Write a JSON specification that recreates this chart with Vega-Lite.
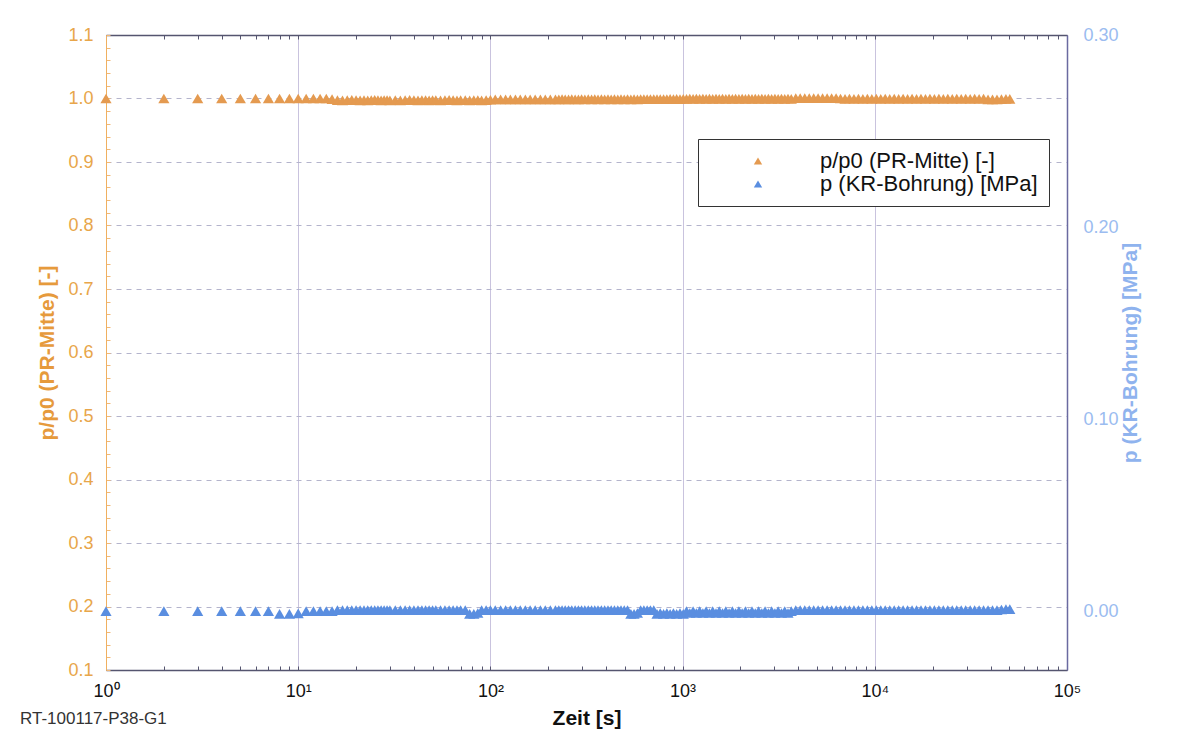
{
  "$schema": "https://vega.github.io/schema/vega-lite/v6.json",
  "width": 961,
  "height": 635,
  "autosize": "none",
  "padding": {"left": 106, "top": 35, "right": 137, "bottom": 73},
  "background": "white",
  "config": {
    "font": "Liberation Sans",
    "view": {"stroke": null},
    "axis": {"labelFont": "Liberation Sans", "titleFont": "Liberation Sans"}
  },
  "title": {
    "text": "RT-100117-P38-G1",
    "orient": "bottom",
    "anchor": "start",
    "frame": "group",
    "dx": -86,
    "offset": -17,
    "fontSize": 17,
    "fontWeight": "normal",
    "color": "#333333",
    "font": "Liberation Sans"
  },
  "data": {
    "values": [
      {"t":1,"a":1.0,"b":0.0},{"t":2,"a":1.0,"b":0.0},{"t":3,"a":1.0,"b":0.0},{"t":4,"a":1.0,"b":0.0},{"t":5,"a":1.0,"b":0.0},
      {"t":6,"a":1.0,"b":0.0},{"t":7,"a":1.0,"b":0.0},{"t":8,"a":1.0,"b":-0.0015},{"t":9,"a":1.0,"b":-0.0015},{"t":10,"a":1.0,"b":-0.0012},
      {"t":11,"a":1.0,"b":0.0},{"t":12,"a":1.0,"b":0.0},{"t":13,"a":1.0,"b":0.0},{"t":14,"a":1.0,"b":0.0},{"t":15,"a":0.999,"b":0.0},
      {"t":16,"a":0.9975,"b":0.0005},{"t":17,"a":0.997,"b":0.0005},{"t":18,"a":0.9975,"b":0.0005},{"t":19,"a":0.998,"b":0.0005},{"t":20,"a":0.9975,"b":0.0005},
      {"t":21,"a":0.997,"b":0.0005},{"t":22,"a":0.9975,"b":0.0005},{"t":23,"a":0.997,"b":0.0005},{"t":24,"a":0.9975,"b":0.0005},{"t":25,"a":0.998,"b":0.0005},
      {"t":26,"a":0.9975,"b":0.0005},{"t":27,"a":0.997,"b":0.0005},{"t":28,"a":0.9975,"b":0.0005},{"t":29,"a":0.9975,"b":0.0005},{"t":30,"a":0.997,"b":0.0005},
      {"t":32,"a":0.9975,"b":0.0005},{"t":34,"a":0.997,"b":0.0005},{"t":36,"a":0.9975,"b":0.0005},{"t":38,"a":0.998,"b":0.0005},{"t":40,"a":0.9975,"b":0.0005},
      {"t":42,"a":0.997,"b":0.0005},{"t":44,"a":0.9975,"b":0.0005},{"t":46,"a":0.9975,"b":0.0005},{"t":48,"a":0.997,"b":0.0005},{"t":50,"a":0.9975,"b":0.0005},
      {"t":52,"a":0.9975,"b":0.0005},{"t":55,"a":0.997,"b":0.0005},{"t":58,"a":0.9975,"b":0.0005},{"t":61,"a":0.998,"b":0.0005},{"t":64,"a":0.9975,"b":0.0005},
      {"t":67,"a":0.997,"b":0.0005},{"t":70,"a":0.9975,"b":0.0005},{"t":74,"a":0.9975,"b":0.0005},{"t":78,"a":0.997,"b":-0.0015},{"t":82,"a":0.9975,"b":-0.0015},
      {"t":86,"a":0.9975,"b":-0.001},{"t":90,"a":0.997,"b":0.0005},{"t":95,"a":0.9975,"b":0.0005},{"t":100,"a":0.998,"b":0.0005},
      {"t":106,"a":0.9985,"b":0.0005},{"t":113,"a":0.9985,"b":0.0005},{"t":120,"a":0.9985,"b":0.0005},{"t":127,"a":0.9985,"b":0.0005},{"t":135,"a":0.9985,"b":0.0005},
      {"t":143,"a":0.9985,"b":0.0005},{"t":152,"a":0.9985,"b":0.0005},{"t":161,"a":0.9985,"b":0.0005},{"t":171,"a":0.9985,"b":0.0005},{"t":182,"a":0.9985,"b":0.0005},
      {"t":193,"a":0.9985,"b":0.0005},{"t":205,"a":0.9985,"b":0.0005},{"t":218,"a":0.9985,"b":0.0005},
      {"t":227,"a":0.9985,"b":0.0005},{"t":236,"a":0.999,"b":0.0005},{"t":245,"a":0.9985,"b":0.0005},{"t":255,"a":0.9985,"b":0.0005},{"t":265,"a":0.999,"b":0.0005},
      {"t":276,"a":0.9985,"b":0.0005},{"t":287,"a":0.9985,"b":0.0005},{"t":298,"a":0.999,"b":0.0005},{"t":310,"a":0.9985,"b":0.0005},{"t":323,"a":0.999,"b":0.0005},
      {"t":336,"a":0.9985,"b":0.0005},{"t":349,"a":0.999,"b":0.0005},{"t":363,"a":0.9985,"b":0.0005},{"t":378,"a":0.999,"b":0.0005},{"t":393,"a":0.9985,"b":0.0005},
      {"t":409,"a":0.999,"b":0.0005},{"t":425,"a":0.9985,"b":0.0005},{"t":442,"a":0.999,"b":0.0005},{"t":460,"a":0.9985,"b":0.0005},{"t":478,"a":0.999,"b":0.0005},
      {"t":497,"a":0.9985,"b":0.0005},{"t":517,"a":0.999,"b":0.0005},{"t":538,"a":0.9985,"b":-0.0015},{"t":559,"a":0.999,"b":-0.0015},{"t":582,"a":0.9985,"b":-0.001},
      {"t":605,"a":0.999,"b":0.0005},{"t":629,"a":0.999,"b":0.0005},{"t":654,"a":0.999,"b":0.0005},{"t":680,"a":0.999,"b":0.0005},{"t":708,"a":0.999,"b":0.0005},
      {"t":736,"a":0.999,"b":-0.0015},{"t":765,"a":0.999,"b":-0.001},{"t":796,"a":0.999,"b":-0.0015},{"t":828,"a":0.999,"b":-0.001},{"t":861,"a":0.9995,"b":-0.0015},
      {"t":896,"a":0.999,"b":-0.001},{"t":931,"a":0.9995,"b":-0.0015},{"t":969,"a":0.999,"b":-0.001},{"t":1008,"a":0.9995,"b":-0.0015},{"t":1048,"a":0.9995,"b":0.0},
      {"t":1090,"a":1.0,"b":-0.001},{"t":1134,"a":0.9995,"b":0.0},{"t":1179,"a":1.0,"b":-0.001},{"t":1226,"a":0.9995,"b":0.0},{"t":1275,"a":1.0,"b":-0.001},
      {"t":1326,"a":0.9995,"b":0.0},{"t":1379,"a":1.0,"b":-0.001},{"t":1434,"a":0.9995,"b":0.0},{"t":1492,"a":1.0,"b":-0.001},{"t":1551,"a":0.9995,"b":0.0},
      {"t":1613,"a":1.0,"b":-0.001},{"t":1678,"a":0.9995,"b":0.0},{"t":1745,"a":1.0,"b":-0.001},{"t":1815,"a":0.9995,"b":0.0},{"t":1887,"a":1.0,"b":-0.001},
      {"t":1963,"a":0.9995,"b":0.0},{"t":2041,"a":1.0,"b":-0.001},{"t":2123,"a":0.9995,"b":0.0},{"t":2208,"a":1.0,"b":-0.001},{"t":2296,"a":0.9995,"b":0.0},
      {"t":2388,"a":1.0,"b":-0.001},{"t":2484,"a":0.9995,"b":0.0},{"t":2583,"a":1.0,"b":-0.001},{"t":2686,"a":0.9995,"b":0.0},{"t":2794,"a":1.0,"b":-0.001},
      {"t":2905,"a":0.9995,"b":0.0},{"t":3022,"a":1.0,"b":-0.001},{"t":3142,"a":0.9995,"b":0.0},{"t":3268,"a":1.0,"b":-0.001},{"t":3399,"a":0.9995,"b":0.0},
      {"t":3535,"a":1.0,"b":-0.001},{"t":3676,"a":0.9995,"b":0.0},
      {"t":3880,"a":1.0005,"b":0.0005},{"t":4090,"a":1.0005,"b":0.0005},{"t":4320,"a":1.0005,"b":0.0005},{"t":4560,"a":1.0005,"b":0.0005},{"t":4810,"a":1.0005,"b":0.0005},
      {"t":5070,"a":1.0005,"b":0.0005},{"t":5350,"a":1.0005,"b":0.0005},{"t":5650,"a":1.0005,"b":0.0005},{"t":5960,"a":1.0005,"b":0.0005},{"t":6290,"a":1.0005,"b":0.0005},
      {"t":6630,"a":1.0,"b":0.0005},{"t":7000,"a":0.9995,"b":0.0005},{"t":7380,"a":1.0,"b":0.0005},{"t":7790,"a":0.9995,"b":0.0005},{"t":8220,"a":1.0,"b":0.0005},
      {"t":8670,"a":0.9995,"b":0.0005},{"t":9150,"a":1.0,"b":0.0005},{"t":9650,"a":0.9995,"b":0.0005},{"t":10180,"a":1.0,"b":0.0005},{"t":10740,"a":0.9995,"b":0.0005},
      {"t":11330,"a":1.0,"b":0.0005},{"t":11960,"a":0.9995,"b":0.0005},{"t":12620,"a":1.0,"b":0.0005},{"t":13310,"a":0.9995,"b":0.0005},{"t":14040,"a":1.0,"b":0.0005},
      {"t":14810,"a":0.9995,"b":0.0005},{"t":15630,"a":1.0,"b":0.0005},{"t":16490,"a":0.9995,"b":0.0005},{"t":17390,"a":1.0,"b":0.0005},{"t":18350,"a":0.9995,"b":0.0005},
      {"t":19360,"a":1.0,"b":0.0005},{"t":20420,"a":0.9995,"b":0.0005},{"t":21550,"a":1.0,"b":0.0005},{"t":22730,"a":0.9995,"b":0.0005},{"t":23980,"a":1.0,"b":0.0005},
      {"t":25300,"a":0.9995,"b":0.0005},{"t":26690,"a":1.0,"b":0.0005},{"t":28160,"a":0.9995,"b":0.0005},{"t":29710,"a":1.0,"b":0.0005},{"t":31350,"a":0.9995,"b":0.0005},
      {"t":33070,"a":1.0,"b":0.0005},{"t":34890,"a":0.9995,"b":0.0005},{"t":36810,"a":1.0,"b":0.0005},{"t":38830,"a":0.9985,"b":0.0005},{"t":40970,"a":0.9985,"b":0.0005},
      {"t":43220,"a":0.9985,"b":0.0005},{"t":45600,"a":0.999,"b":0.0008},{"t":48110,"a":0.9995,"b":0.001},{"t":50400,"a":0.9995,"b":0.001}
    ]
  },
  "layer": [
    {
      "mark": {"type": "point", "shape": "triangle-up", "filled": true, "size": 125, "opacity": 1},
      "encoding": {
        "x": {
          "field": "t", "type": "quantitative",
          "scale": {"type": "log", "domain": [1, 100000], "nice": false},
          "axis": {
            "orient": "bottom",
            "title": "Zeit [s]",
            "titleFontSize": 21,
            "titleFontWeight": "bold",
            "titleColor": "#111111",
            "titlePadding": 7,
            "values": [1,2,3,4,5,6,7,8,9,10,20,30,40,50,60,70,80,90,100,200,300,400,500,600,700,800,900,1000,2000,3000,4000,5000,6000,7000,8000,9000,10000,20000,30000,40000,50000,60000,70000,80000,90000,100000],
            "labelExpr": "indexof([1,10,100,1000,10000,100000], datum.value) >= 0 ? '10' + ['⁰','¹','²','³','⁴','⁵'][round(log(datum.value)/LN10)] : ''",
            "labelFontSize": 18,
            "labelColor": "#111111",
            "labelPadding": 16,
            "labelFlush": false,
            "labelOverlap": false,
            "domainColor": "#55556f",
            "domainWidth": 1.5,
            "tickColor": "#55556f",
            "tickSize": -4,
            "grid": true,
            "gridColor": "#c9c3de",
            "gridWidth": 1,
            "gridOpacity": {"condition": {"test": "indexof([1,10,100,1000,10000,100000], datum.value) >= 0", "value": 1}, "value": 0}
          }
        },
        "y": {
          "field": "a", "type": "quantitative",
          "scale": {"domain": [0.1, 1.1], "nice": false, "zero": false},
          "axis": {
            "orient": "left",
            "title": "p/p0 (PR-Mitte) [-]",
            "titleFontSize": 21,
            "titleFontWeight": "bold",
            "titleColor": "#e69a3c",
            "titlePadding": 10,
            "values": [0.1,0.12,0.14,0.16,0.18,0.2,0.22,0.24,0.26,0.28,0.3,0.32,0.34,0.36,0.38,0.4,0.42,0.44,0.46,0.48,0.5,0.52,0.54,0.56,0.58,0.6,0.62,0.64,0.66,0.68,0.7,0.72,0.74,0.76,0.78,0.8,0.82,0.84,0.86,0.88,0.9,0.92,0.94,0.96,0.98,1.0,1.02,1.04,1.06,1.08,1.1],
            "labelExpr": "abs(datum.value*10 - round(datum.value*10)) < 0.001 ? format(datum.value, '.1f') : ''",
            "labelFontSize": 18,
            "labelColor": "#e8a64a",
            "labelPadding": 17,
            "labelOverlap": false,
            "labelFlush": false,
            "domainColor": "#f0b060",
            "tickColor": "#f0b878",
            "tickSize": -4,
            "grid": true,
            "gridColor": "#b4b4cc",
            "gridDash": [5, 5],
            "gridOpacity": {"condition": {"test": "abs(datum.value*10 - round(datum.value*10)) < 0.001 && datum.value > 0.15 && datum.value < 1.05", "value": 1}, "value": 0}
          }
        },
        "color": {
          "datum": "p/p0 (PR-Mitte) [-]",
          "type": "nominal",
          "scale": {"domain": ["p/p0 (PR-Mitte) [-]", "p (KR-Bohrung) [MPa]"], "range": ["#e49a50", "#5a8ee0"]},
          "legend": {
            "title": null,
            "orient": "none",
            "legendX": 592,
            "legendY": 104,
            "direction": "vertical",
            "symbolType": "triangle-up",
            "symbolSize": 70,
            "symbolOffset": 38,
            "labelOffset": 51,
            "labelFontSize": 22,
            "labelColor": "#111111",
            "labelFont": "Liberation Sans",
            "labelLimit": 400,
            "rowPadding": 1,
            "padding": 11,
            "strokeColor": "#333333",
            "fillColor": "#ffffff"
          }
        }
      }
    },
    {
      "mark": {"type": "point", "shape": "triangle-up", "filled": true, "size": 125, "opacity": 1},
      "encoding": {
        "x": {
          "field": "t", "type": "quantitative",
          "axis": {
            "orient": "top",
            "title": null,
            "labels": false,
            "values": [1,2,3,4,5,6,7,8,9,10,20,30,40,50,60,70,80,90,100,200,300,400,500,600,700,800,900,1000,2000,3000,4000,5000,6000,7000,8000,9000,10000,20000,30000,40000,50000,60000,70000,80000,90000,100000],
            "domainColor": "#55556f",
            "domainWidth": 1.5,
            "tickColor": "#55556f",
            "tickSize": -4,
            "grid": false
          }
        },
        "y": {
          "field": "b", "type": "quantitative",
          "scale": {"domain": [-0.0307, 0.30], "nice": false, "zero": false},
          "axis": {
            "orient": "right",
            "title": "p (KR-Bohrung) [MPa]",
            "titleAngle": 270,
            "titleFontSize": 21,
            "titleFontWeight": "bold",
            "titleColor": "#8fb3ee",
            "titlePadding": 22,
            "values": [0, 0.1, 0.2, 0.3],
            "format": ".2f",
            "labelFontSize": 18,
            "labelColor": "#9bbcf0",
            "labelPadding": 16,
            "labelFlush": false,
            "domainColor": "#6a6aa0",
            "domainWidth": 1.5,
            "ticks": false,
            "grid": false
          }
        },
        "color": {"datum": "p (KR-Bohrung) [MPa]", "type": "nominal"}
      }
    }
  ],
  "resolve": {"scale": {"y": "independent"}}
}
